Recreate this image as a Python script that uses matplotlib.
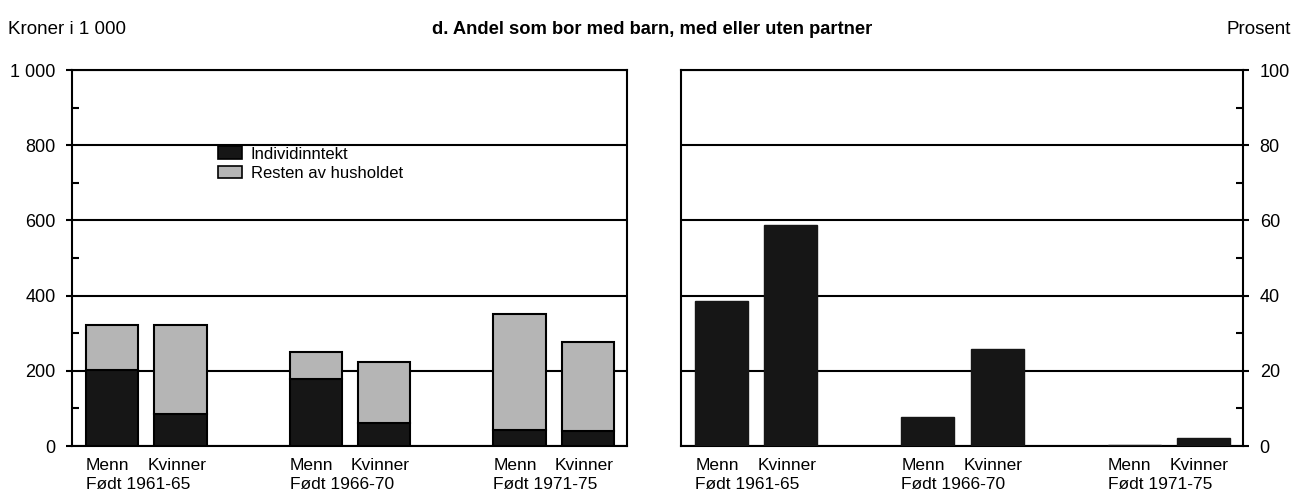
import matplotlib
matplotlib.use("Agg")
import matplotlib.pyplot as plt
import matplotlib.transforms as mtransforms
from matplotlib.patches import Patch
import numpy as np

plt.rcParams["font.family"] = ["Liberation Sans", "DejaVu Sans"]

# data
groups = ["Født 1961-65", "Født 1966-70", "Født 1971-75"]
individ_menn = [203, 177, 43]
individ_kvinner = [86, 60, 39]
rest_menn = [119, 74, 307]
rest_kvinner = [237, 164, 238]
andel_menn = [38.6, 7.7, 0.3]
andel_kvinner = [58.7, 25.7, 2.2]
left_ticks = [0, 200, 400, 600, 800, 1000]
left_ticklabels = ["0", "200", "400", "600", "800", "1 000"]
right_ticks = [0, 20, 40, 60, 80, 100]

DARK = "#161616"
LIGHT = "#b5b5b5"
off, w = 0.168, 0.257
x = np.arange(len(groups))

fig = plt.figure(figsize=(12.96, 4.98), dpi=100)
ax1 = fig.add_axes([0.0556, 0.1044, 0.4282, 0.755])
ax2 = fig.add_axes([0.5255, 0.1044, 0.4336, 0.755])

# left panel: stacked income bars
ax1.bar(x - off, individ_menn, w, color=DARK, edgecolor="black", lw=1.5, zorder=3)
ax1.bar(x - off, rest_menn, w, bottom=individ_menn, color=LIGHT, edgecolor="black", lw=1.5, zorder=3)
ax1.bar(x + off, individ_kvinner, w, color=DARK, edgecolor="black", lw=1.5, zorder=3)
ax1.bar(x + off, rest_kvinner, w, bottom=individ_kvinner, color=LIGHT, edgecolor="black", lw=1.5, zorder=3)
ax1.set_ylim(0, 1000)
ax1.set_yticks(left_ticks)
ax1.set_yticklabels(left_ticklabels)
ax1.set_yticks(np.arange(100, 1000, 200), minor=True)

# right panel: share living with children
ax2.bar(x - off, andel_menn, w, color=DARK, edgecolor=DARK, lw=1, zorder=3)
ax2.bar(x + off, andel_kvinner, w, color=DARK, edgecolor=DARK, lw=1, zorder=3)
ax2.set_ylim(0, 100)
ax2.yaxis.tick_right()
ax2.set_yticks(right_ticks)
ax2.set_yticks(np.arange(10, 100, 20), minor=True)

for ax in (ax1, ax2):
    ax.set_xlim(-0.365, 2.36)
    ax.set_xticks([])
    for s in ax.spines.values():
        s.set_linewidth(1.5)
        s.set_color("black")
    ax.grid(axis="y", which="major", color="black", lw=1.5, zorder=1)
    ax.tick_params(axis="y", which="major", direction="out", length=4, width=1.5,
                   labelsize=13, pad=8)
    ax.tick_params(axis="y", which="minor", direction="in", length=5, width=1.5)
    tr = mtransforms.blended_transform_factory(ax.transData, ax.transAxes)
    for i, g in enumerate(groups):
        xl = x[i] - off - w / 2
        ax.text(xl, -0.033, "Menn", transform=tr, ha="left", va="top", fontsize=12.5)
        ax.text(x[i] + off - w / 2 - 0.035, -0.033, "Kvinner", transform=tr,
                ha="left", va="top", fontsize=12.5)
        ax.text(xl, -0.083, g, transform=tr, ha="left", va="top", fontsize=12.5)

ax1.legend(handles=[Patch(facecolor=DARK, edgecolor="black", lw=1.2, label="Individinntekt"),
                    Patch(facecolor=LIGHT, edgecolor="black", lw=1.2, label="Resten av husholdet")],
           loc="upper left", bbox_to_anchor=(0.263, 0.797), frameon=False, fontsize=12,
           handlelength=1.45, handleheight=0.8, handletextpad=0.5, labelspacing=0.25,
           borderpad=0, borderaxespad=0)

fig.text(0.006, 0.94, "Kroner i 1 000", ha="left", va="center", fontsize=13.5)
fig.text(0.996, 0.94, "Prosent", ha="right", va="center", fontsize=13.5)
fig.text(0.503, 0.94, "d. Andel som bor med barn, med eller uten partner",
         ha="center", va="center", fontsize=13.2, fontweight="bold")

fig.savefig("out.png", dpi=100)
